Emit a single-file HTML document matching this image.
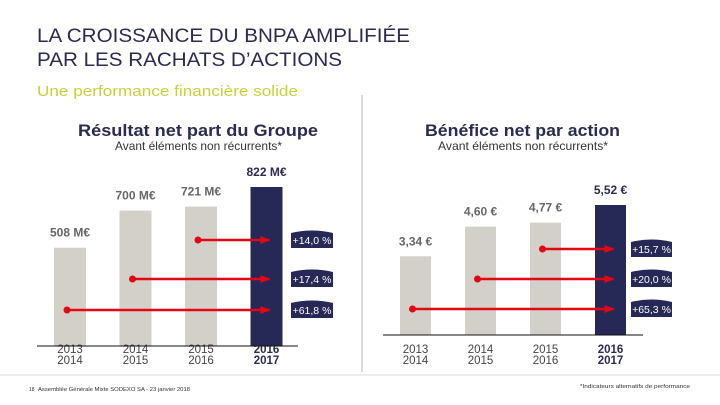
<!DOCTYPE html>
<html><head><meta charset="utf-8"><style>
body{margin:0;background:#fff}
svg{display:block;font-family:"Liberation Sans",sans-serif}
</style></head><body>
<svg width="720" height="405" viewBox="0 0 720 405">
<defs><marker id="ah" markerUnits="userSpaceOnUse" markerWidth="10" markerHeight="10" refX="9" refY="5" orient="auto"><path d="M0,1 L10,5 L0,9 z" fill="#e30613"/></marker></defs>
<text x="37" y="42" font-size="19.5" fill="#2b2b4f" textLength="373" lengthAdjust="spacingAndGlyphs">LA CROISSANCE DU BNPA AMPLIFIÉE</text>
<text x="37" y="66" font-size="19.5" fill="#2b2b4f" textLength="305" lengthAdjust="spacingAndGlyphs">PAR LES RACHATS D’ACTIONS</text>
<text x="37" y="96" font-size="15" fill="#c9d03a" textLength="261" lengthAdjust="spacingAndGlyphs">Une performance financière solide</text>
<line x1="362" y1="95" x2="362" y2="372" stroke="#d0cec8" stroke-width="1.5"/>
<line x1="0" y1="375" x2="720" y2="375" stroke="#ddd" stroke-width="1"/>
<text x="78" y="136" font-size="16.5" font-weight="bold" fill="#2b2b4f" textLength="240" lengthAdjust="spacingAndGlyphs">Résultat net part du Groupe</text>
<text x="115" y="150" font-size="12" fill="#333" textLength="167" lengthAdjust="spacingAndGlyphs">Avant éléments non récurrents*</text>
<text x="425" y="136" font-size="16.5" font-weight="bold" fill="#2b2b4f" textLength="195" lengthAdjust="spacingAndGlyphs">Bénéfice net par action</text>
<text x="438" y="150" font-size="12" fill="#333" textLength="170" lengthAdjust="spacingAndGlyphs">Avant éléments non récurrents*</text>
<g id="left"></g>
<g id="right"></g>
<text x="29" y="391" font-size="5" fill="#333">18</text>
<text x="38" y="391" font-size="5" fill="#333" textLength="152" lengthAdjust="spacingAndGlyphs">Assemblée Générale Mixte SODEXO SA - 23 janvier 2018</text>
<text x="580" y="388" font-size="5" fill="#333" textLength="110" lengthAdjust="spacingAndGlyphs">*Indicateurs alternatifs de performance</text>
</svg>
<script>
const periods=[["2013","2014"],["2014","2015"],["2015","2016"],["2016","2017"]];
const rnValues=[508,700,721,822];
const rnLabels=["508 M€","700 M€","721 M€","822 M€"];
const rnGrowth=["+14,0 %","+17,4 %","+61,8 %"];
const bnpaValues=[3.34,4.60,4.77,5.52];
const bnpaLabels=["3,34 €","4,60 €","4,77 €","5,52 €"];
const bnpaGrowth=["+15,7 %","+20,0 %","+65,3 %"];
const NS="http://www.w3.org/2000/svg";
function mk(p,t,a){const e=document.createElementNS(NS,t);for(const k in a)e.setAttribute(k,a[k]);p.appendChild(e);return e;}
function chart(g,cfg){
  const {vals,labels,growth,x0,step,bw,base,maxH,arrowYs,badgeX,badgeW,axisX1,axisX2,yrOff}=cfg;
  const mx=Math.max(...vals);
  const y=v=>base-v/mx*maxH;
  const xb=i=>x0+i*step;
  vals.forEach((v,i)=>{
    const r=mk(g,'rect',{x:xb(i),y:y(v),width:bw,height:base-y(v),fill:i==3?'#262856':'#d3d0ca'});
    
    
    const t=mk(g,'text',{x:xb(i)+bw/2,y:y(v)-11,'font-size':12,'font-weight':'bold','text-anchor':'middle',fill:i==3?'#2b2b4f':'#666'});
    t.textContent=labels[i];
    
    
    periods[i].forEach((p,j)=>{
      const yt=mk(g,'text',{x:xb(i)+bw/2,y:base+yrOff+j*11,'font-size':11.5,'text-anchor':'middle',fill:i==3?'#2b2b4f':'#444','font-weight':i==3?'bold':'normal'});
      yt.textContent=p;
      
      
    });
  });
  const ax=mk(g,'line',{x1:axisX1,y1:base,x2:axisX2,y2:base,stroke:'#111','stroke-width':1});
  
  
  growth.forEach((gr,k)=>{
    const i=2-k, ay=arrowYs[k];
    const sx=xb(i)+bw/2-3, ex=xb(3)+bw/2+3;
    const l=mk(g,'line',{x1:sx,y1:ay,x2:ex,y2:ay,stroke:'#e30613','stroke-width':2.5,'marker-end':'url(#ah)'});
    
    
    const c=mk(g,'circle',{cx:sx,cy:ay,r:3.5,fill:'#e30613'});
    
    
    const b=mk(g,'path',{d:`M${badgeX},${ay-7} Q${badgeX+badgeW/2},${ay-12} ${badgeX+badgeW},${ay-7} L${badgeX+badgeW},${ay+8} L${badgeX},${ay+8} Z`,fill:'#262856'});
    
    
    const bt=mk(g,'text',{x:badgeX+badgeW/2,y:ay+4,'font-size':10.5,'text-anchor':'middle',fill:'#fff'});
    bt.textContent=gr;
    
    
  });
}
chart(document.getElementById('left'),{vals:rnValues,labels:rnLabels,growth:rnGrowth,x0:54,step:65.5,bw:32,base:346,maxH:159,arrowYs:[240,279,310],badgeX:291,badgeW:42,axisX1:37,axisX2:298,yrOff:7});
chart(document.getElementById('right'),{vals:bnpaValues,labels:bnpaLabels,growth:bnpaGrowth,x0:400,step:65,bw:31,base:335,maxH:130,arrowYs:[249,279,309],badgeX:631,badgeW:41,axisX1:383,axisX2:643,yrOff:18});
</script>
</body></html>
